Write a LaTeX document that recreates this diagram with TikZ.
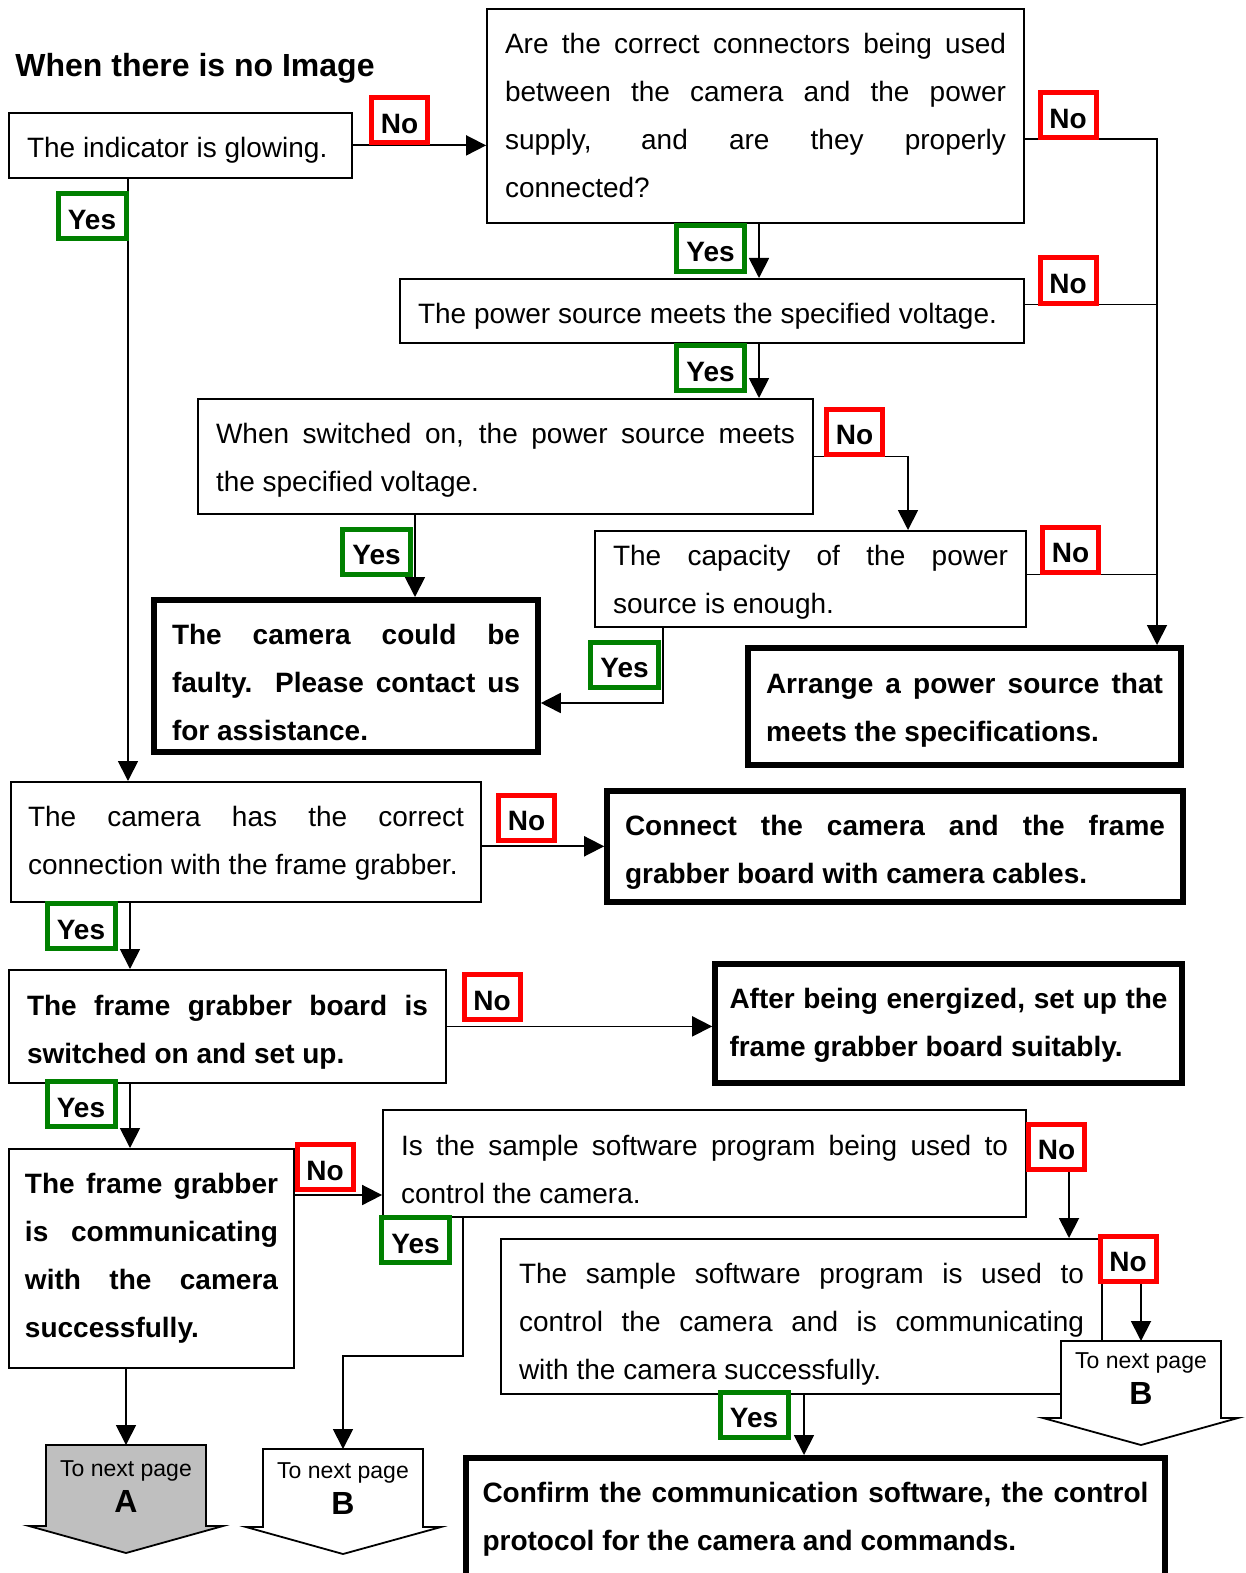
\documentclass[tikz,border=0pt]{standalone}
\usepackage{fontspec}
\setmainfont{Liberation Sans}
\usetikzlibrary{arrows.meta}
\newcommand{\bodyfont}{\fontsize{14pt}{24pt}\selectfont\tolerance=10000\hyphenpenalty=10000}
\definecolor{nored}{RGB}{255,0,0}
\definecolor{yesgreen}{RGB}{0,128,0}
\tikzstyle{check}=[draw, line width=0.9pt, anchor=north, align=justify, inner xsep=9pt, inner ysep=0pt, text height=22.5pt, font=\bodyfont]
\tikzstyle{action}=[check, line width=2.8pt, font=\bodyfont\bfseries]
\tikzstyle{answer}=[draw, fill=white, line width=2.5pt, inner sep=0pt, minimum height=22.5pt, text height=13.3pt, text depth=0pt, font=\fontsize{14pt}{16pt}\selectfont\bfseries]
\tikzstyle{nolabel}=[answer, draw=nored, minimum width=28pt]
\tikzstyle{yeslabel}=[answer, draw=yesgreen, minimum width=34pt]
\tikzstyle{arr}=[line width=0.9pt, -{Triangle[length=10pt, width=10pt]}]
\tikzstyle{pageshape}=[draw, line width=0.9pt, fill=white]
\tikzstyle{pagelabel}=[anchor=north, inner xsep=0pt, inner ysep=5.3pt, align=center, font=\fontsize{11.5pt}{18pt}\selectfont]

\begin{document}
\begin{tikzpicture}[x=0.5pt, y=-0.5pt]
    \useasboundingbox (0,0) rectangle (1246,1573);
    \node[anchor=base west, inner sep=0pt, font=\fontsize{16pt}{18pt}\selectfont\bfseries] (title) at (15,77) {When there is no Image};
    % questions and actions
    \node[check, text width=153.5pt, text depth=10pt] (b1) at (180.5,112) {The indicator is glowing.};
    \node[check, text width=250.5pt, text depth=84.5pt] (b2) at (755.5,8) {Are the correct connectors being used\linebreak between the camera and the power\linebreak supply, and are they properly\linebreak connected?};
    \node[check, text width=294pt, text depth=9.5pt] (b3) at (712,278) {The power source meets the specified voltage.};
    \node[check, text width=289.5pt, text depth=35pt] (b4) at (505.5,398) {When switched on, the power source meets\linebreak the specified voltage.};
    \node[check, text width=197.5pt, text height=17.5pt, text depth=30.5pt] (b5) at (810.5,530) {The capacity of the power\linebreak source is enough.};
    \node[action, text width=174pt, text depth=53.5pt] (b6) at (346,597) {The camera could be\linebreak faulty. Please contact us\linebreak for assistance.};
    \node[action, text width=198.5pt, text height=23pt, text depth=35.5pt] (b7) at (964.5,645) {Arrange a power source that\linebreak meets the specifications.};
    \node[check, text width=218pt, inner xsep=8.5pt, text depth=37.5pt] (b8) at (246,781) {The camera has the correct\linebreak connection with the frame grabber.};
    \node[action, text width=270pt, text depth=33pt] (b9) at (895,788) {Connect the camera and the frame\linebreak grabber board with camera cables.};
    \node[check, text width=200.5pt, text height=23pt, text depth=33.5pt, font=\bodyfont\bfseries] (b10) at (227.5,969) {The frame grabber board is\linebreak switched on and set up.};
    \node[action, text width=219pt, inner xsep=7.25pt, text depth=37pt] (b11) at (948.5,961) {After being energized, set up the\linebreak frame grabber board suitably.};
    \node[check, text width=126.5pt, inner xsep=8pt, text height=22.5pt, text depth=87pt, font=\bodyfont\bfseries] (b12) at (151.5,1148) {The frame grabber\linebreak is communicating\linebreak with the camera\linebreak successfully.};
    \node[check, text width=303.5pt, text height=23pt, text depth=30.5pt] (b13) at (704.5,1109) {Is the sample software program being used to\linebreak control the camera.};
    \node[check, text width=282.5pt, text height=22.5pt, text depth=55pt] (b14) at (801.5,1238) {The sample software program is used to\linebreak control the camera and is communicating\linebreak with the camera successfully.};
    \node[action, text width=333pt, inner xsep=8.25pt, text depth=40pt] (b15) at (815.5,1455) {Confirm the communication software, the control\linebreak protocol for the camera and commands.};
    % off-page connectors
    \draw[pageshape, fill=black!25] (46,1445) -- (206,1445) -- (206,1526) -- (223,1526) -- (126,1553) -- (29,1526) -- (46,1526) -- cycle;
    \node[pagelabel, inner ysep=7.8pt] (pA) at (126,1445) {To next page\\{\fontsize{16pt}{18pt}\selectfont\bfseries A}};
    \draw[pageshape] (263,1449) -- (423,1449) -- (423,1527) -- (441,1527) -- (343,1554) -- (246,1527) -- (263,1527) -- cycle;
    \node[pagelabel, inner ysep=6.8pt] (pB1) at (343,1449) {To next page\\{\fontsize{16pt}{18pt}\selectfont\bfseries B}};
    \draw[pageshape] (1061,1341) -- (1221,1341) -- (1221,1418) -- (1238,1418) -- (1141,1445) -- (1043,1418) -- (1061,1418) -- cycle;
    \node[pagelabel, inner ysep=5.8pt] (pB2) at (1141,1341) {To next page\\{\fontsize{16pt}{18pt}\selectfont\bfseries B}};
    % bends and columns of the connectors
    \coordinate (t1) at (1157,139);
    \coordinate (t3) at (1157,304);
    \coordinate (t5) at (1157,574);
    \coordinate (v1) at (759,0);
    \coordinate (c1) at (128,0);
    \coordinate (c4) at (908,0);
    \coordinate (c5) at (663,703);
    \coordinate (c6) at (415,0);
    \coordinate (c8) at (130,0);
    \coordinate (c12) at (0,1195);
    \coordinate (c13) at (463,1356);
    \coordinate (c14) at (1069,0);
    \coordinate (c15) at (804,0);
    \coordinate (c16) at (0,1258.5);
    % connectors
    \draw[arr] (b1.east) -- (b1.east -| b2.west);
    \draw[arr] (t1 -| b2.east) -- (t1) -- (t1 |- b7.north);
    \draw (t3 -| b3.east) -- (t3);
    \draw (t5 -| b5.east) -- (t5);
    \draw[arr] (b2.south -| v1) -- (b3.north -| v1);
    \draw[arr] (b3.south -| v1) -- (b4.north -| v1);
    \draw[arr] (b4.east) -| (c4 |- b5.north);
    \draw[arr] (b4.south -| c6) -- (b6.north -| c6);
    \draw[arr] (b5.south -| c5) -- (c5) -- (c5 -| b6.east);
    \draw[arr] (b1.south -| c1) -- (b8.north -| c1);
    \draw[arr] (b9.west -| b8.east) -- (b9.west);
    \draw[arr] (b8.south -| c8) -- (b10.north -| c8);
    \draw[arr] (b10.east) -- (b10.east -| b11.west);
    \draw[arr] (b10.south -| c8) -- (b12.north -| c8);
    \draw[arr] (c12 -| b12.east) -- (c12 -| b13.west);
    \draw[arr] (b12.south -| pA.north) -- (pA.north);
    \draw[arr] (b13.south -| c13) -- (c13) -| (pB1.north);
    \draw[arr] (b13.east) -| (c14 |- b14.north);
    \draw[arr] (c16 -| b14.east) -| (pB2.north);
    \draw[arr] (b14.south -| c15) -- (b15.north -| c15);
    % answers
    \node[nolabel] (n1) at (399.5,120) {No};
    \node[yeslabel] (y1) at (92,216.5) {Yes};
    \node[nolabel] (n2) at (1068,115) {No};
    \node[yeslabel] (y2) at (710.5,248.5) {Yes};
    \node[nolabel] (n3) at (1068,280.5) {No};
    \node[yeslabel] (y3) at (710.5,368) {Yes};
    \node[nolabel] (n4) at (854.5,431.5) {No};
    \node[yeslabel] (y4) at (376.5,551.5) {Yes};
    \node[nolabel] (n5) at (1070.5,549.5) {No};
    \node[yeslabel] (y5) at (624.5,664.5) {Yes};
    \node[nolabel] (n8) at (526.5,817.5) {No};
    \node[yeslabel] (y8) at (81,926) {Yes};
    \node[nolabel] (n10) at (492,997) {No};
    \node[yeslabel] (y10) at (81,1104) {Yes};
    \node[nolabel] (n12) at (325,1167) {No};
    \node[nolabel] (n13) at (1056.5,1146.5) {No};
    \node[yeslabel] (y13) at (415.5,1240) {Yes};
    \node[nolabel] (n14) at (1128,1258.5) {No};
    \node[yeslabel] (y14) at (754,1414.5) {Yes};
\end{tikzpicture}
\end{document}
